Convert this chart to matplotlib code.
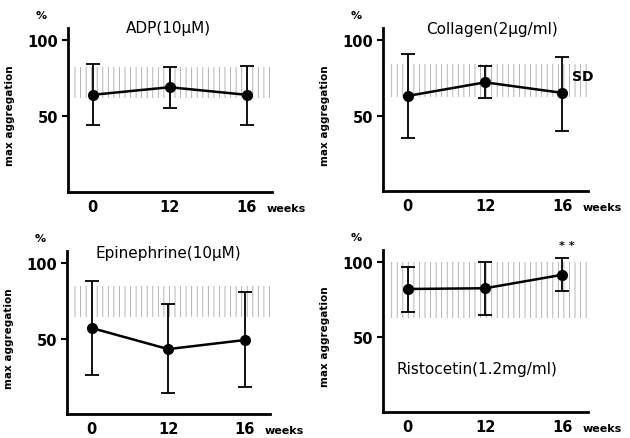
import numpy as np
import matplotlib
matplotlib.use('Agg')
import matplotlib.pyplot as plt

plt.rcParams['font.family'] = 'DejaVu Sans'
plt.rcParams['hatch.linewidth'] = 0.6

weeks = ['0', '12', '16']

titles = ['ADP(10\u03bcM)', 'Collagen(2\u03bcg/ml)', 'Epinephrine(10\u03bcM)', 'Ristocetin(1.2mg/ml)']

adp_mean = [64, 69, 64]
adp_lo = [44, 55, 44]
adp_hi = [84, 82, 83]
adp_band = (62, 82)

col_mean = [63, 72, 65]
col_lo = [35, 61.5, 40]
col_hi = [91, 83, 89]
col_band = (62, 84)

epi_mean = [57, 43, 49]
epi_lo = [26, 14, 18]
epi_hi = [88, 73, 81]
epi_band = (64, 85)

ris_mean = [82, 82.5, 91.5]
ris_lo = [67, 65, 80.5]
ris_hi = [97, 100, 103]
ris_band = (63, 100)

panels = [
    (adp_mean, adp_lo, adp_hi, adp_band),
    (col_mean, col_lo, col_hi, col_band),
    (epi_mean, epi_lo, epi_hi, epi_band),
    (ris_mean, ris_lo, ris_hi, ris_band),
]

# title position (data coords) and alignment
title_pos = [(0.98, 108, 'center'), (1.09, 108, 'center'),
             (1.0, 107, 'center'), (-0.14, 29, 'left')]

# axes boxes in pixels: left, top, right, bottom
boxes = [(68, 29, 272, 193), (383, 29, 588, 192),
         (67, 252, 270, 415), (383, 251, 588, 413)]

W, H = 630, 439
fig = plt.figure(figsize=(W / 100, H / 100), dpi=100)

for k, (mean, lo, hi, band) in enumerate(panels):
    l, t, r, b = boxes[k]
    ax = fig.add_axes([l / W, 1 - b / H, (r - l) / W, (b - t) / H])
    x = np.arange(len(weeks))
    mean = np.array(mean)
    yerr = [mean - np.array(lo), np.array(hi) - mean]

    # normal range (SD) band
    ax.axhspan(band[0], band[1], xmin=0.02, xmax=1.0, facecolor='none',
               edgecolor='#a8a8a8', hatch='|||', linewidth=0, zorder=0)

    ax.errorbar(x, mean, yerr=yerr, color='black', lw=1.8, elinewidth=1.3,
                capsize=5, capthick=1.3, marker='o', markersize=7, zorder=3)

    ax.set_xlim(-0.32, 2.33)
    ax.set_ylim(0, 108)
    ax.set_xticks(x)
    ax.set_xticklabels(weeks, fontsize=10.5, fontweight='bold')
    ax.set_yticks([50, 100])
    ax.set_yticklabels(['50', '100'], fontsize=10.5, fontweight='bold')
    ax.tick_params(axis='x', length=0, pad=5)
    ax.tick_params(axis='y', length=4, width=1.5, direction='out', pad=3)
    for s in ['top', 'right']:
        ax.spines[s].set_visible(False)
    for s in ['left', 'bottom']:
        ax.spines[s].set_linewidth(2)
    ax.set_ylabel('max aggregation', fontsize=7.5, fontweight='bold')
    ax.yaxis.set_label_coords(-0.26, 0.47)
    ax.text(-0.13, 1.08, '%', transform=ax.transAxes, fontsize=8, fontweight='bold',
            ha='center', va='center')
    ax.text(2.26, -0.1, 'weeks', transform=ax.get_xaxis_transform(), fontsize=8,
            fontweight='bold', ha='left', va='center')

    tx, ty, ha = title_pos[k]
    ax.text(tx, ty, titles[k], fontsize=11, ha=ha, va='center')

    if k == 1:
        ax.text(2.12, 76, 'SD', fontsize=10, fontweight='bold', ha='left', va='center')
    if k == 3:
        ax.text(2.05, 111, '* *', fontsize=8, fontweight='bold', ha='center', va='center')

fig.savefig('out.png', dpi=100)
